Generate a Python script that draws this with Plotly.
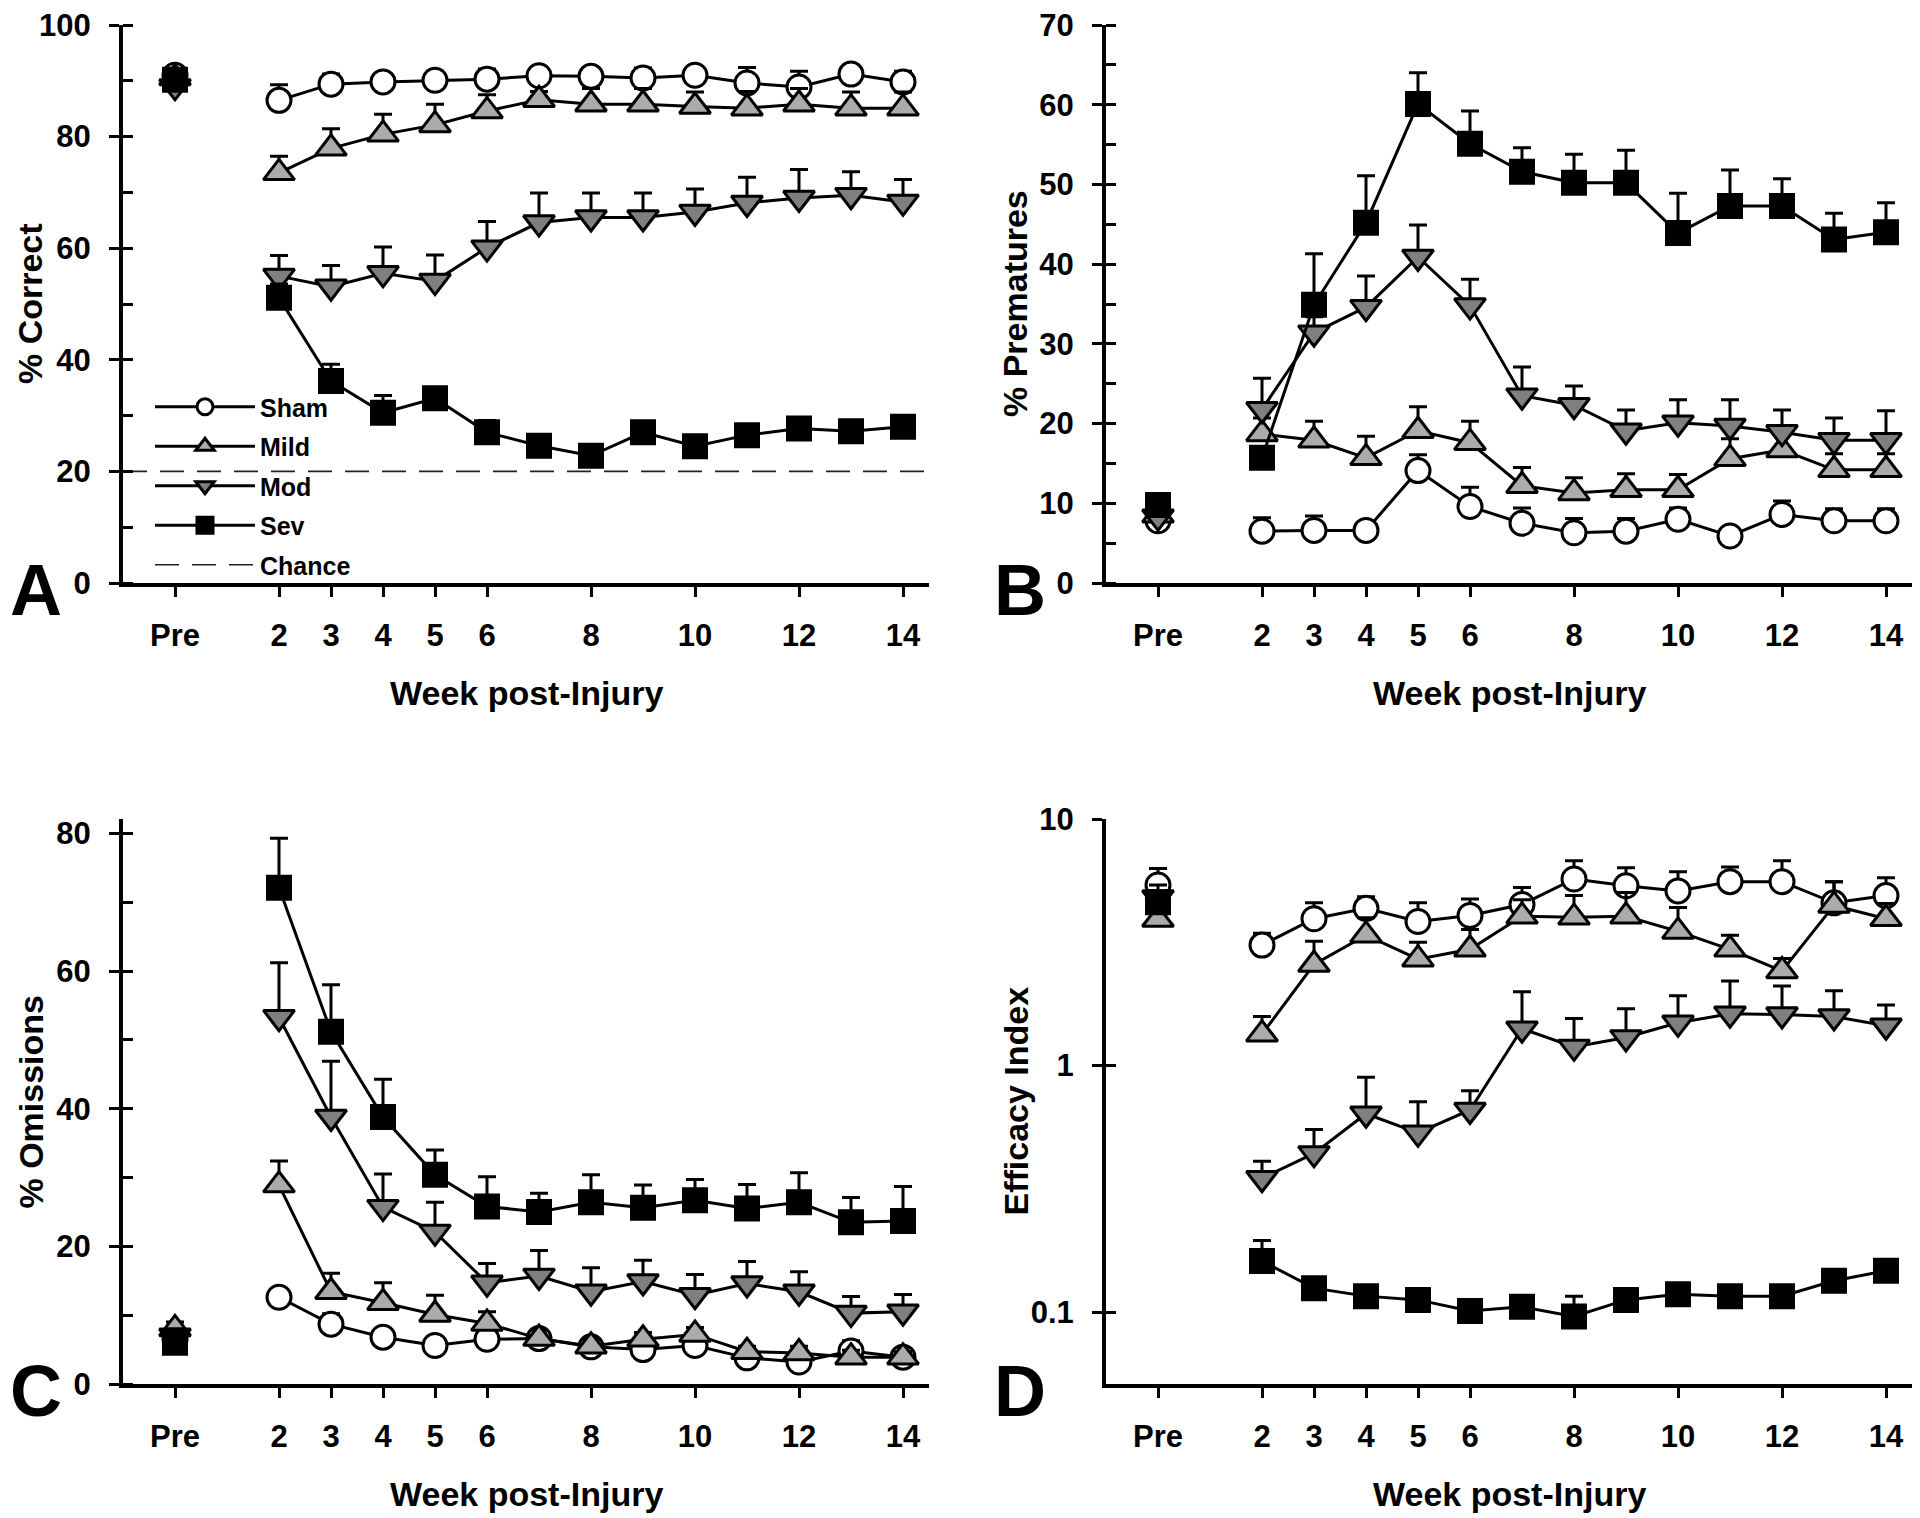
import plotly.graph_objects as go

# ---------------- data ----------------
weeks = [0, 2, 3, 4, 5, 6, 7, 8, 9, 10, 11, 12, 13, 14]   # 0 = "Pre"
week_ticks = [0, 2, 3, 4, 5, 6, 8, 10, 12, 14]
week_labels = ["Pre", "2", "3", "4", "5", "6", "8", "10", "12", "14"]
groups = ["Sham", "Mild", "Mod", "Sev"]

# A: % Correct
correct_sham = [91.0, 86.5, 89.4, 89.8, 90.1, 90.3, 90.9, 90.8, 90.5, 91.0, 89.6, 88.9, 91.2, 89.8]
correct_sham_err = [1.5, 2.8, 1.8, 1.5, 1.6, 1.8, 1.2, 1.6, 1.8, 1.5, 2.8, 2.8, 1.6, 1.9]
correct_mild = [90.5, 73.5, 77.9, 80.4, 82.1, 84.6, 86.6, 85.8, 85.8, 85.4, 85.1, 85.8, 85.1, 85.1]
correct_mild_err = [1.5, 3.0, 3.5, 3.6, 3.7, 2.9, 1.5, 2.8, 2.8, 2.6, 3.0, 2.8, 2.9, 2.9]
correct_mod = [89.0, 55.0, 53.1, 55.5, 54.1, 60.1, 64.6, 65.5, 65.5, 66.5, 68.1, 69.0, 69.5, 68.3]
correct_mod_err = [1.5, 3.7, 3.8, 4.7, 4.7, 4.7, 5.3, 4.4, 4.4, 4.1, 4.6, 5.1, 4.2, 4.0]
correct_sev = [90.2, 51.1, 36.2, 30.5, 33.1, 27.0, 24.6, 22.8, 27.0, 24.5, 26.5, 27.7, 27.2, 28.0]
correct_sev_err = [1.5, 2.5, 3.0, 3.1, 1.5, 2.1, 1.5, 1.5, 1.5, 1.2, 1.5, 1.3, 1.3, 1.5]
chance_level = [20, 20]

# B: % Prematures
prem_sham = [7.8, 6.5, 6.6, 6.6, 14.1, 9.6, 7.5, 6.3, 6.5, 8.0, 5.9, 8.6, 7.8, 7.8]
prem_sham_err = [0.8, 1.7, 1.8, 0.5, 2.0, 2.4, 1.9, 1.8, 1.6, 1.4, 0.8, 1.7, 1.5, 1.5]
prem_mild = [8.5, 18.7, 17.9, 15.7, 19.1, 17.6, 12.2, 11.3, 11.7, 11.7, 15.6, 16.7, 14.2, 14.2]
prem_mild_err = [1.0, 2.0, 2.4, 2.7, 3.0, 2.7, 2.3, 1.9, 2.0, 1.9, 2.5, 2.5, 2.0, 2.0]
prem_mod = [8.3, 21.8, 31.4, 34.6, 40.9, 34.8, 23.5, 22.3, 19.1, 20.1, 19.7, 18.9, 17.9, 17.9]
prem_mod_err = [1.0, 3.9, 2.0, 3.9, 4.0, 3.3, 3.6, 2.4, 2.6, 2.9, 3.3, 2.8, 2.8, 3.7]
prem_sev = [9.8, 15.7, 34.9, 45.2, 60.1, 55.1, 51.6, 50.2, 50.2, 43.9, 47.3, 47.3, 43.1, 44.0]
prem_sev_err = [1.0, 1.0, 6.4, 5.9, 3.9, 4.1, 3.0, 3.6, 4.1, 5.0, 4.5, 3.4, 3.3, 3.7]

# C: % Omissions
omis_sham = [6.5, 12.6, 8.7, 6.8, 5.6, 6.5, 6.6, 5.4, 5.0, 5.6, 3.8, 3.2, 4.8, 3.9]
omis_sham_err = [1.0, 1.0, 1.5, 1.0, 1.0, 1.0, 1.0, 1.0, 1.0, 1.0, 0.8, 0.8, 1.5, 0.8]
omis_mild = [8.0, 28.9, 13.4, 11.8, 10.1, 8.8, 6.6, 5.5, 6.5, 7.2, 4.7, 4.5, 3.9, 3.9]
omis_mild_err = [1.0, 3.5, 2.7, 2.9, 2.8, 1.7, 1.2, 1.0, 1.0, 1.0, 0.8, 1.0, 1.0, 0.8]
omis_mod = [7.0, 53.3, 38.8, 25.7, 22.1, 14.7, 15.7, 13.4, 14.9, 12.9, 14.6, 13.4, 10.3, 10.5]
omis_mod_err = [1.0, 7.9, 8.1, 4.8, 4.3, 2.8, 3.7, 3.5, 3.1, 3.0, 3.2, 2.9, 2.4, 2.5]
omis_sev = [6.0, 72.1, 51.2, 38.8, 30.4, 25.8, 25.0, 26.4, 25.6, 26.7, 25.5, 26.4, 23.5, 23.7]
omis_sev_err = [1.0, 7.2, 6.8, 5.5, 3.6, 4.3, 2.7, 4.0, 3.3, 3.0, 3.5, 4.3, 3.6, 5.0]

# D: Efficacy Index (log scale)
eff_sham = [5.4, 3.08, 3.94, 4.34, 3.84, 4.06, 4.5, 5.71, 5.36, 5.11, 5.57, 5.57, 4.57, 4.89]
eff_sham_err = [0.9, 0.36, 0.63, 0.5, 0.73, 0.68, 0.77, 1.06, 0.98, 1.0, 0.82, 1.2, 1.0, 0.89]
eff_mild = [3.91, 1.34, 2.57, 3.38, 2.7, 2.96, 4.03, 3.99, 4.03, 3.5, 2.96, 2.42, 4.46, 3.94]
eff_mild_err = [0.5, 0.24, 0.62, 0.6, 0.46, 0.6, 0.67, 0.9, 1.0, 0.87, 0.42, 0.3, 1.1, 0.6]
eff_mod = [4.8, 0.349, 0.44, 0.637, 0.533, 0.66, 1.41, 1.19, 1.3, 1.49, 1.62, 1.61, 1.58, 1.45]
eff_mod_err = [0.6, 0.06, 0.11, 0.26, 0.18, 0.13, 0.58, 0.36, 0.4, 0.43, 0.58, 0.49, 0.43, 0.31]
eff_sev = [4.6, 0.161, 0.125, 0.116, 0.112, 0.101, 0.105, 0.096, 0.112, 0.118, 0.116, 0.116, 0.134, 0.147]
eff_sev_err = [0.5, 0.034, 0.01, 0.01, 0.01, 0.01, 0.01, 0.02, 0.01, 0.01, 0.01, 0.01, 0.01, 0.01]

# ---------------- layout / styling ----------------
OFF = 8                       # default page body margin (figure starts at 8,8)
W, H = 1920 - OFF, 1518 - OFF
FONT = "Liberation Sans, Arial, Helvetica, sans-serif"
XRANGE = [-1.0, 14.5]


def fx(px):  # page pixel -> paper x
    return (px - OFF) / W


def fy(py):  # page pixel -> paper y
    return 1 - (py - OFF) / H


styles = {
    "Sham": dict(symbol="circle", color="white", size=24),
    "Mild": dict(symbol="triangle-up", color="#ababab", size=27),
    "Mod": dict(symbol="triangle-down", color="#7f7f7f", size=27),
    "Sev": dict(symbol="square", color="black", size=23),
}

panels = [
    dict(letter="A", title="% Correct", xpx=(123, 929), ypx=(25, 583), yrange=[0, 100],
         major=[0, 20, 40, 60, 80, 100], minor=10, log=False,
         series={"Sham": (correct_sham, correct_sham_err), "Mild": (correct_mild, correct_mild_err),
                 "Mod": (correct_mod, correct_mod_err), "Sev": (correct_sev, correct_sev_err)}),
    dict(letter="B", title="% Prematures", xpx=(1106, 1912), ypx=(25, 583), yrange=[0, 70],
         major=[0, 10, 20, 30, 40, 50, 60, 70], minor=5, log=False,
         series={"Sham": (prem_sham, prem_sham_err), "Mild": (prem_mild, prem_mild_err),
                 "Mod": (prem_mod, prem_mod_err), "Sev": (prem_sev, prem_sev_err)}),
    dict(letter="C", title="% Omissions", xpx=(123, 929), ypx=(819, 1384), yrange=[0, 82.1],
         major=[0, 20, 40, 60, 80], minor=10, log=False,
         series={"Sham": (omis_sham, omis_sham_err), "Mild": (omis_mild, omis_mild_err),
                 "Mod": (omis_mod, omis_mod_err), "Sev": (omis_sev, omis_sev_err)}),
    dict(letter="D", title="Efficacy Index", xpx=(1106, 1912), ypx=(819, 1384), yrange=[-1.292, 1.0],
         major=[0.1, 1, 10], minor=None, log=True,
         series={"Sham": (eff_sham, eff_sham_err), "Mild": (eff_mild, eff_mild_err),
                 "Mod": (eff_mod, eff_mod_err), "Sev": (eff_sev, eff_sev_err)}),
]

fig = go.Figure()
layout = dict(
    width=W, height=H, margin=dict(l=0, r=0, t=0, b=0, pad=0, autoexpand=False),
    paper_bgcolor="white", plot_bgcolor="white",
    font=dict(family=FONT, color="black", size=24, weight="bold"),
    showlegend=True,
)
annotations = []


def ax_suffix(k):
    return "" if k == 1 else str(k)


for i, p in enumerate(panels):
    k = i + 1
    xs, ys = ax_suffix(k), ax_suffix(k)
    xref, yref = "x" + xs, "y" + ys
    oy = k + 4
    x0, x1 = p["xpx"]
    y0, y1 = p["ypx"]

    layout["xaxis" + xs] = dict(
        domain=[fx(x0), fx(x1)], range=XRANGE, anchor=yref, automargin=False,
        tickmode="array", tickvals=week_ticks, ticktext=week_labels,
        ticks="outside", ticklen=10, tickwidth=3, tickcolor="black",
        showline=True, linewidth=4, linecolor="black",
        showgrid=False, zeroline=False, ticklabeloverflow="allow",
        tickfont=dict(size=31, family=FONT, weight="bold"), ticklabelstandoff=12,
    )
    ya = dict(
        domain=[fy(y1), fy(y0)], range=p["yrange"], anchor=xref, automargin=False,
        type="log" if p["log"] else "linear",
        tickmode="array", tickvals=p["major"],
        ticktext=[str(v) for v in p["major"]],
        ticks="outside", ticklen=10, tickwidth=3, tickcolor="black",
        showline=True, linewidth=4, linecolor="black",
        showgrid=False, zeroline=False, ticklabeloverflow="allow",
        tickfont=dict(size=31, family=FONT, weight="bold"), ticklabelstandoff=12,
    )
    if p["minor"]:
        ya["minor"] = dict(ticks="inside", ticklen=10, tickwidth=3, tickcolor="black",
                           dtick=p["minor"], showgrid=False)
    layout["yaxis" + ys] = ya
    # overlay axis drawing the inner half of the major (crossing) ticks
    layout["yaxis" + str(oy)] = dict(
        overlaying=yref, anchor=xref, side="left", range=p["yrange"], automargin=False,
        type="log" if p["log"] else "linear",
        tickmode="array", tickvals=p["major"], ticks="inside", ticklen=10,
        tickwidth=3, tickcolor="black", showticklabels=False,
        showline=False, showgrid=False, zeroline=False,
    )
    fig.add_trace(go.Scatter(x=[None], y=[None], xaxis=xref, yaxis="y" + str(oy),
                             showlegend=False, hoverinfo="skip"))

    if k == 1:
        fig.add_trace(go.Scatter(
            x=XRANGE, y=chance_level, xaxis=xref, yaxis=yref, mode="lines",
            line=dict(color="#222222", width=1.6, dash="24px,13px"),
            name="Chance", legendgroup="Chance", showlegend=True, hoverinfo="skip"))

    for g in groups:
        vals, errs = p["series"][g]
        st = styles[g]
        marker = dict(symbol=st["symbol"], size=st["size"], color=st["color"],
                      line=dict(color="black", width=3))
        # post-injury weeks (connected)
        fig.add_trace(go.Scatter(
            x=weeks[1:], y=vals[1:], xaxis=xref, yaxis=yref,
            mode="lines+markers", name=g, legendgroup=g,
            showlegend=(k == 1), cliponaxis=False,
            line=dict(color="black", width=3), marker=marker,
            error_y=dict(type="data", symmetric=False, array=errs[1:],
                         arrayminus=[0] * (len(errs) - 1),
                         color="black", thickness=3, width=9),
        ))
        # pre-injury baseline (isolated point)
        fig.add_trace(go.Scatter(
            x=weeks[:1], y=vals[:1], xaxis=xref, yaxis=yref,
            mode="markers", name=g, legendgroup=g, showlegend=False, cliponaxis=False,
            marker=marker,
            error_y=dict(type="data", symmetric=False, array=errs[:1], arrayminus=[0],
                         color="black", thickness=3, width=9),
        ))

    # y-axis title
    title_x = 30 if k in (1, 3) else 1015
    annotations.append(dict(
        text=p["title"], xref="paper", yref="paper",
        x=fx(title_x), y=fy((y0 + y1) / 2), xanchor="center", yanchor="middle",
        textangle=-90, showarrow=False, font=dict(size=34, family=FONT, weight="bold")))
    # x-axis title
    annotations.append(dict(
        text="Week post-Injury", xref="paper", yref="paper",
        x=fx((x0 + x1) / 2), y=fy(y1 + 110), xanchor="center", yanchor="middle",
        showarrow=False, font=dict(size=34, family=FONT, weight="bold")))
    # panel letter
    letter_x = 36 if k in (1, 3) else 1020
    annotations.append(dict(
        text=p["letter"], xref="paper", yref="paper",
        x=fx(letter_x), y=fy(y1 + 7), xanchor="center", yanchor="middle",
        showarrow=False, font=dict(size=72, family=FONT, weight="bold")))

layout["annotations"] = annotations
layout["legend"] = dict(
    x=fx(150), y=fy(384), xanchor="left", yanchor="top",
    bgcolor="rgba(0,0,0,0)", borderwidth=0,
    font=dict(size=25, family=FONT, weight="bold"),
    tracegroupgap=4, itemwidth=100, traceorder="grouped",
)
fig.update_layout(**layout)

# legend ordering: Sham, Mild, Mod, Sev, Chance
order = {"Sham": 1, "Mild": 2, "Mod": 3, "Sev": 4, "Chance": 5}
for tr in fig.data:
    if tr.name in order:
        tr.legendrank = order[tr.name]

fig.write_html("out.html")
